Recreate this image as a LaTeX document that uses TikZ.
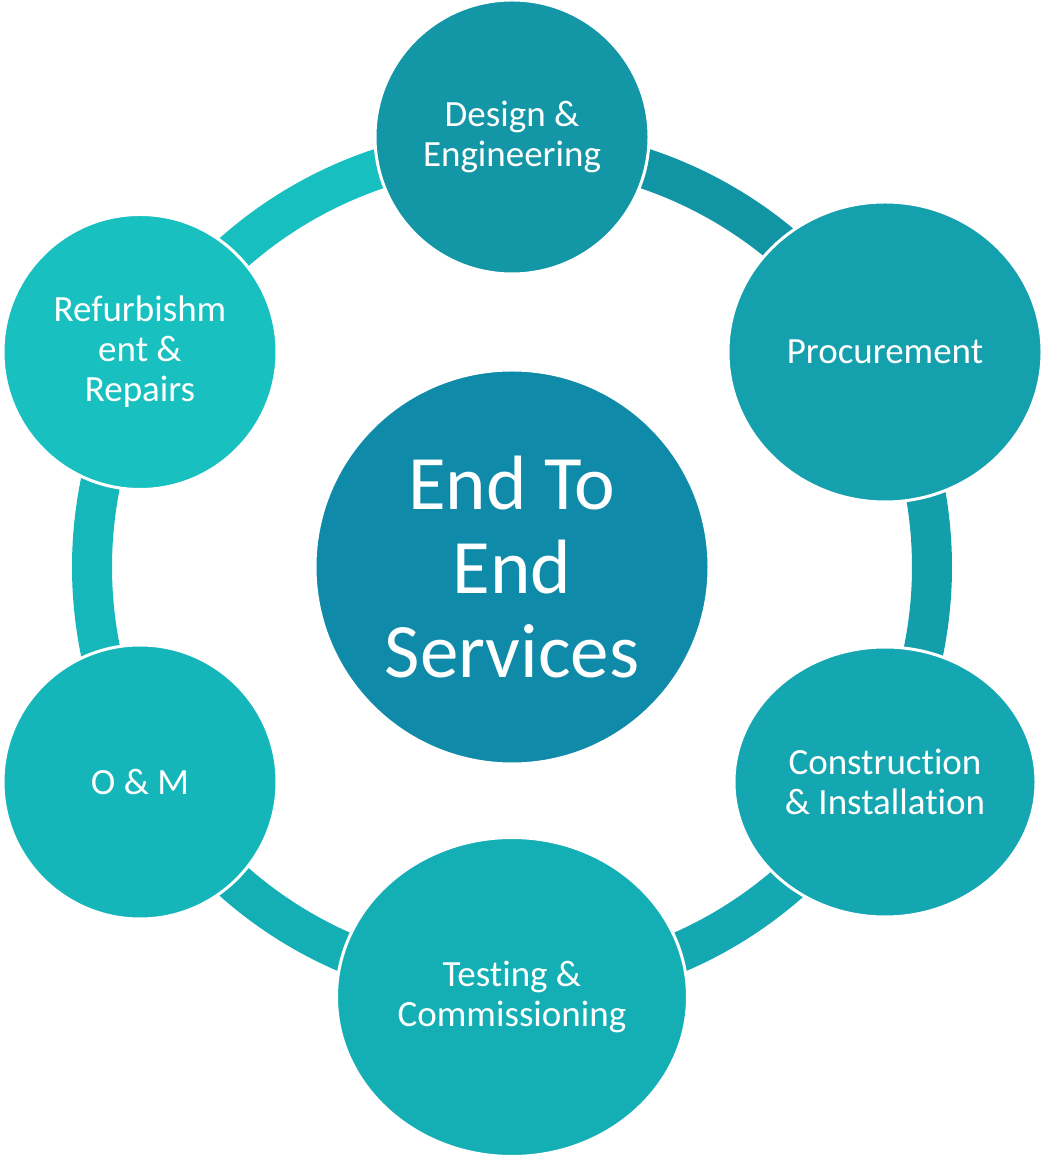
\documentclass[tikz,border=0pt]{standalone}
\usepackage{fontspec}
\setmainfont[Ligatures=NoCommon]{Carlito}
\usetikzlibrary{shapes.geometric}
\definecolor{cCenter}{HTML}{0F8AA8}
\definecolor{cDesign}{HTML}{1396A6}
\definecolor{cProc}{HTML}{14A0AD}
\definecolor{cCons}{HTML}{14A7B1}
\definecolor{cTest}{HTML}{14AFB5}
\definecolor{cOM}{HTML}{15B6B9}
\definecolor{cRef}{HTML}{18C0C0}
\definecolor{sDP}{HTML}{1195A5}
\definecolor{sPC}{HTML}{129EAB}
\definecolor{sCT}{HTML}{13A8B2}
\definecolor{sTO}{HTML}{13AFB5}
\definecolor{sOR}{HTML}{15B7BA}
\definecolor{sRD}{HTML}{17BFC0}
\tikzset{
  bubble/.style={ellipse, draw=white, line width=3pt, inner sep=0pt, align=center, text=white,
    font=\fontsize{37}{40}\selectfont},
  ringseg/.style={line width=40pt}
}
\begin{document}
\begin{tikzpicture}[x=1pt,y=1pt]
\useasboundingbox (0,0) rectangle (1043,1157);
\coordinate (ring) at (512,590);
% ring segments
\draw[ringseg, sDP] (ring) ++(90:420) arc[start angle=90, end angle=30, radius=420];
\draw[ringseg, sPC] (ring) ++(30:420) arc[start angle=30, end angle=-30, radius=420];
\draw[ringseg, sCT] (ring) ++(-30:420) arc[start angle=-30, end angle=-90, radius=420];
\draw[ringseg, sTO] (ring) ++(-90:420) arc[start angle=-90, end angle=-150, radius=420];
\draw[ringseg, sOR] (ring) ++(210:420) arc[start angle=210, end angle=150, radius=420];
\draw[ringseg, sRD] (ring) ++(150:420) arc[start angle=150, end angle=90, radius=420];
% circles
\node[bubble, fill=cCenter, minimum width=394pt, minimum height=394pt,
  font=\fontsize{77}{84}\selectfont] (center) at (ring) {End To\\End\\Services};
\node[bubble, fill=cDesign, minimum width=274pt, minimum height=274pt] (design) at (512,1020) {Design \&\\Engineering};
\node[bubble, fill=cProc, minimum width=314pt, minimum height=300pt] (proc) at (885,805) {Procurement};
\node[bubble, fill=cCons, minimum width=302pt, minimum height=270pt] (cons) at (885,375) {Construction\\\& Installation};
\node[bubble, fill=cTest, minimum width=351pt, minimum height=319pt] (test) at (512,160) {Testing \&\\Commissioning};
\node[bubble, fill=cOM, minimum width=274pt, minimum height=274pt] (om) at (140,375) {O \& M};
\node[bubble, fill=cRef, minimum width=274pt, minimum height=275pt] (ref) at (140,805) {Refurbishm\\ent \&\\Repairs};
\end{tikzpicture}
\end{document}
